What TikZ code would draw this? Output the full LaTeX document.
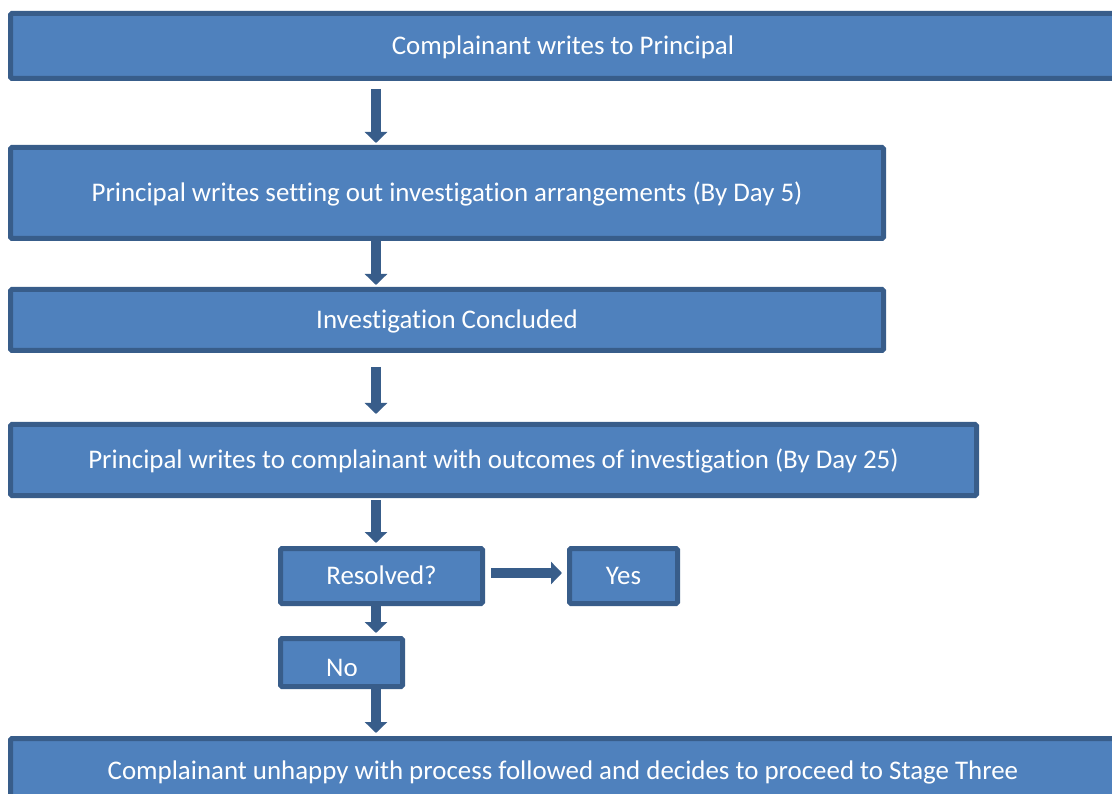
\documentclass[tikz,border=0pt]{standalone}
\usepackage{fontspec}
\setmainfont{Carlito}[Ligatures=NoCommon]
\usetikzlibrary{arrows.meta}
\definecolor{boxfill}{HTML}{4F81BD}
\definecolor{boxline}{HTML}{385D8A}
\begin{document}
\begin{tikzpicture}[x=1pt,y=-1pt,
  box/.style={draw=boxline, fill=boxfill, line width=5pt, text=white,
    font=\fontsize{26.9}{30}\selectfont, text height=22pt, text depth=5pt,
    inner sep=0pt, outer sep=2.5pt, rounded corners=1.5pt},
  arr/.style={draw=boxline, line width=10pt, -{Triangle[width=22pt,length=11pt]}}
]
\useasboundingbox (0,0) rectangle (1112,794);
\clip (0,0) rectangle (1112,794);
\coordinate (ax) at (376,0);

\node[box, minimum width=1105pt, minimum height=65pt] (b1) at (563,46) {Complainant writes to Principal};
\node[box, minimum width=873pt, minimum height=91pt] (b2) at (447,193) {Principal writes setting out investigation arrangements (By Day 5)};
\node[box, minimum width=873pt, minimum height=61pt] (b3) at (447,320) {Investigation Concluded};
\node[box, minimum width=966pt, minimum height=71pt] (b4) at (493.5,460) {Principal writes to complainant with outcomes of investigation (By Day 25)};
\node[box, minimum width=202pt, minimum height=55pt] (res) at (381.5,576) {Resolved?};
\node[box, minimum width=108pt, minimum height=55pt] (yes) at (623.5,576) {Yes};
\node[box, minimum width=122pt, minimum height=48pt] (no) at (341.5,662.5) {};
\begin{scope}
  \clip (278,636) rectangle (405,675);
  \node[text=white, font=\fontsize{26.9}{30}\selectfont, anchor=base, inner sep=0pt] (nolabel) at (342,676) {No};
\end{scope}
\node[box, minimum width=1105pt, minimum height=65pt] (b5) at (563,771) {Complainant unhappy with process followed and decides to proceed to Stage Three};

\draw[arr] ([yshift=-8pt]b1.south -| ax) -- ([yshift=2pt]b2.north -| ax);
\draw[arr] (b2.south -| ax) -- ([yshift=2pt]b3.north -| ax);
\draw[arr] ([yshift=-14pt]b3.south -| ax) -- ([yshift=8pt]b4.north -| ax);
\draw[arr] ([yshift=-2pt]b4.south -| ax) -- ([yshift=3pt]res.north -| ax);
\draw[arr] (res.south -| ax) -- ([yshift=3pt]no.north -| ax);
\draw[arr] (no.south -| ax) -- ([yshift=3pt]b5.north -| ax);
\draw[arr] ([xshift=6pt,yshift=3pt]res.east) -- ([xshift=-5pt,yshift=3pt]res.east -| yes.west);
\end{tikzpicture}
\end{document}
